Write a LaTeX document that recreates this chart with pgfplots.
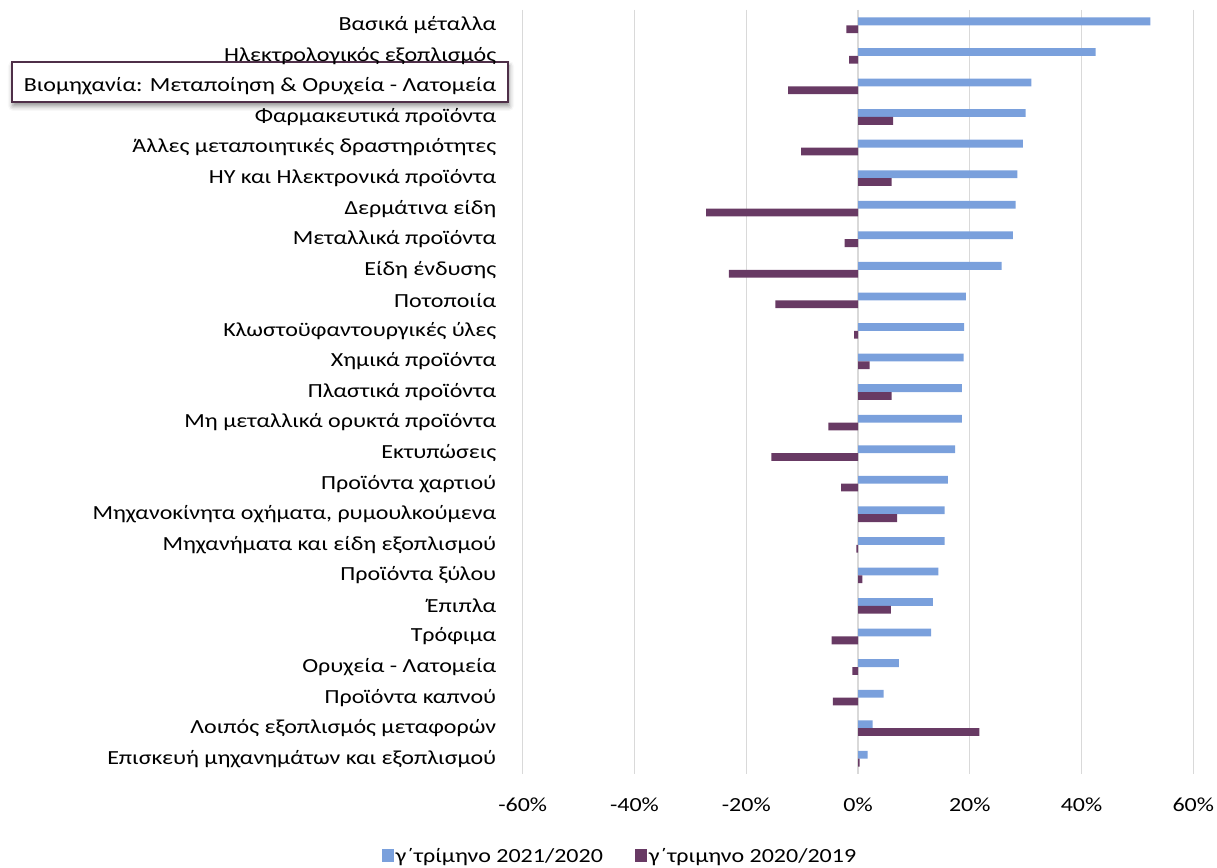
\documentclass[border=0pt]{standalone}
\usepackage{fontspec}
\setmainfont{Carlito}[FakeStretch=1.2]
\usepackage{pgfplots}
\pgfplotsset{compat=1.18}
\usetikzlibrary{shadows.blur}
\definecolor{barblue}{HTML}{7AA0DC}
\definecolor{barpurple}{HTML}{683A64}
\definecolor{gridgray}{HTML}{D9D9D9}
\definecolor{boxcol}{HTML}{4E2F48}
\newcommand{\lblfont}{\fontsize{20}{24}\selectfont}

\begin{document}
\begin{tikzpicture}
\useasboundingbox (0,0) rectangle (1217pt,867pt);
% highlighted label box
\draw[boxcol, line width=2.5pt, fill=white,
  blur shadow={shadow xshift=1pt, shadow yshift=-4pt, shadow blur radius=5pt, shadow opacity=45}]
  (12pt,765pt) rectangle (508pt,805pt);
\begin{axis}[
    at={(522.7pt,93pt)}, anchor=south west,
    scale only axis, width=670.6pt, height=764pt,
    xbar, bar width=7.8pt,
    xmin=-60, xmax=60, ymin=-0.5, ymax=24.5, y dir=reverse,
    xtick={-60,-40,-20,0,20,40,60},
    xticklabels={-60\%,-40\%,-20\%,0\%,20\%,40\%,60\%},
    ytick={0,...,24},
    yticklabels={Βασικά μέταλλα, Ηλεκτρολογικός εξοπλισμός,
      Βιομηχανία: Μεταποίηση \& Ορυχεία - Λατομεία, Φαρμακευτικά προϊόντα,
      Άλλες μεταποιητικές δραστηριότητες, ΗΥ και Ηλεκτρονικά προϊόντα,
      Δερμάτινα είδη, Μεταλλικά προϊόντα, Είδη ένδυσης, Ποτοποιία,
      Κλωστοϋφαντουργικές ύλες, Χημικά προϊόντα, Πλαστικά προϊόντα,
      Μη μεταλλικά ορυκτά προϊόντα, Εκτυπώσεις, Προϊόντα χαρτιού,
      {Μηχανοκίνητα οχήματα, ρυμουλκούμενα\ }, Μηχανήματα και είδη εξοπλισμού,
      Προϊόντα ξύλου, Έπιπλα, Τρόφιμα, Ορυχεία - Λατομεία, Προϊόντα καπνού,
      Λοιπός εξοπλισμός μεταφορών, Επισκευή μηχανημάτων και εξοπλισμού},
    xmajorgrids, major grid style={gridgray, line width=1.3pt},
    axis line style={draw=none}, tick style={draw=none},
    yticklabel style={font=\lblfont, inner sep=0pt, anchor=east, xshift=-22pt},
    xticklabel style={font=\lblfont, inner sep=0pt, anchor=north, yshift=-24pt},
    legend style={at={(0.145,-0.107)}, anchor=center, draw=none, fill=none,
      legend columns=2, font=\lblfont,
      /tikz/every even column/.append style={column sep=30pt}},
    legend image code/.code={\fill[#1] (0pt,-6.5pt) rectangle (12pt,6.5pt);},
]
\addplot[fill=barblue, draw=none, bar shift=3.9pt] coordinates {
(52.3,0) (42.5,1) (31.0,2) (30.0,3) (29.5,4) (28.5,5) (28.2,6) (27.7,7)
(25.7,8) (19.3,9) (19.0,10) (18.9,11) (18.6,12) (18.6,13) (17.4,14)
(16.1,15) (15.5,16) (15.5,17) (14.4,18) (13.4,19) (13.1,20) (7.3,21)
(4.6,22) (2.6,23) (1.7,24)};
\addlegendentry{γ΄τρίμηνο 2021/2020}
\addplot[fill=barpurple, draw=none, bar shift=-3.9pt] coordinates {
(-2.1,0) (-1.6,1) (-12.5,2) (6.3,3) (-10.2,4) (6.0,5) (-27.2,6) (-2.4,7)
(-23.1,8) (-14.8,9) (-0.7,10) (2.1,11) (6.0,12) (-5.3,13) (-15.5,14)
(-3.0,15) (7.0,16) (-0.3,17) (0.8,18) (5.9,19) (-4.7,20) (-1.0,21)
(-4.5,22) (21.7,23) (0.3,24)};
\addlegendentry{γ΄τριμηνο 2020/2019}
\end{axis}
\end{tikzpicture}
\end{document}
